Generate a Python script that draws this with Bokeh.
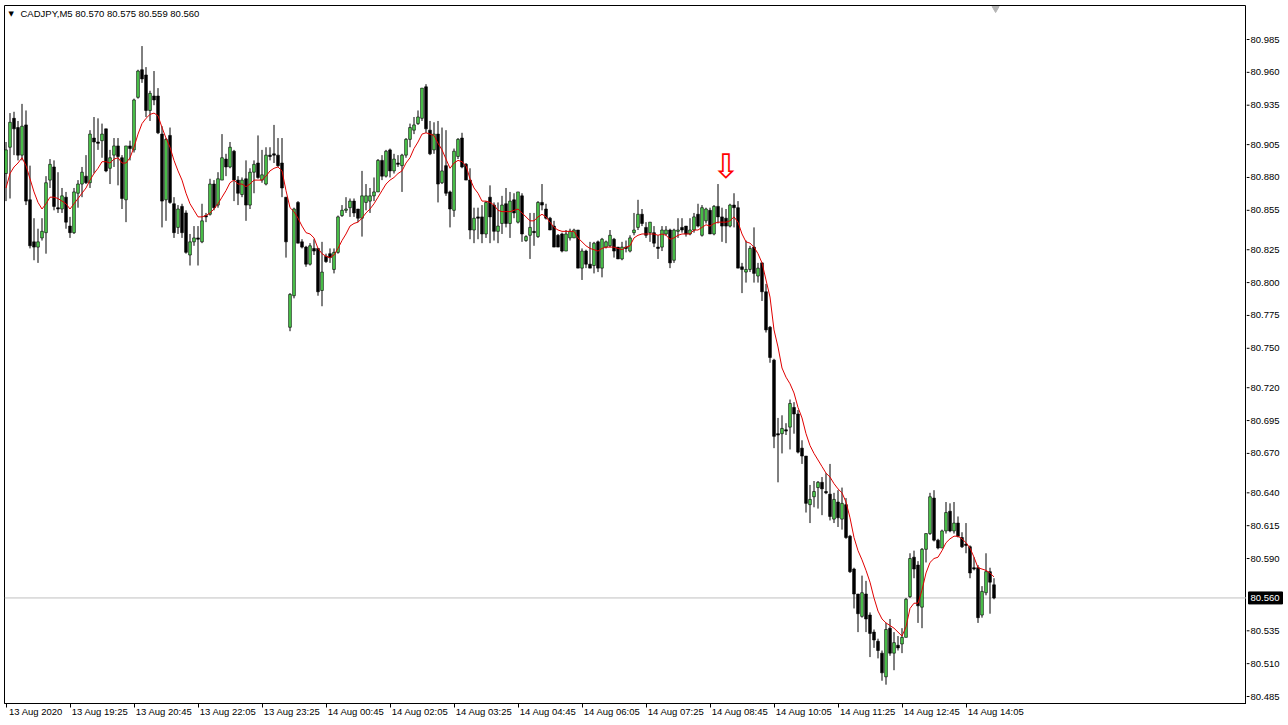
from bokeh.plotting import figure
from bokeh.layouts import row
from bokeh.models import ColumnDataSource, FixedTicker, Span, Label, Range1d
from bokeh.embed import file_html
from bokeh.resources import INLINE
from bokeh.core.properties import value

symbol = "CADJPY,M5"

open_ = [
80.883, 80.903, 80.925, 80.918, 80.897, 80.920, 80.863, 80.831, 80.827, 80.834,
80.838, 80.878, 80.888, 80.857, 80.856, 80.865, 80.843, 80.838, 80.868, 80.875,
80.881, 80.876, 80.910, 80.907, 80.908, 80.917, 80.887, 80.897, 80.904, 80.895,
80.863, 80.904, 80.901, 80.941, 80.962, 80.958, 80.931, 80.942, 80.942, 80.913,
80.863, 80.912, 80.860, 80.842, 80.858, 80.853, 80.821, 80.831, 80.834, 80.831,
80.851, 80.852, 80.875, 80.859, 80.878, 80.894, 80.888, 80.900, 80.878, 80.867,
80.879, 80.859, 80.884, 80.891, 80.878, 80.875, 80.897, 80.898, 80.897, 80.891,
80.865, 80.766, 80.790, 80.861, 80.831, 80.827, 80.814, 80.826, 80.826, 80.794,
80.820, 80.822, 80.810, 80.823, 80.851, 80.855, 80.857, 80.862, 80.856, 80.849,
80.861, 80.862, 80.866, 80.869, 80.893, 80.881, 80.901, 80.885, 80.891, 80.889,
80.897, 80.909, 80.916, 80.921, 80.925, 80.949, 80.916, 80.901, 80.913, 80.876,
80.889, 80.869, 80.855, 80.896, 80.910, 80.890, 80.878, 80.840, 80.850, 80.850,
80.837, 80.865, 80.859, 80.839, 80.845, 80.860, 80.845, 80.863, 80.846, 80.866,
80.832, 80.836, 80.839, 80.835, 80.861, 80.856, 80.849, 80.843, 80.836, 80.837,
80.824, 80.834, 80.834, 80.840, 80.811, 80.824, 80.814, 80.813, 80.831, 80.811,
80.827, 80.828, 80.833, 80.827, 80.818, 80.827, 80.824, 80.838, 80.842, 80.852,
80.842, 80.838, 80.838, 80.827, 80.827, 80.837, 80.840, 80.817, 80.839, 80.842,
80.843, 80.837, 80.840, 80.852, 80.836, 80.847, 80.855, 80.837, 80.858, 80.850,
80.849, 80.843, 80.859, 80.857, 80.812, 80.808, 80.810, 80.827, 80.805, 80.815,
80.793, 80.766, 80.741, 80.685, 80.685, 80.688, 80.690, 80.705, 80.700, 80.674,
80.668, 80.631, 80.637, 80.644, 80.648, 80.641, 80.639, 80.620, 80.633, 80.620,
80.631, 80.607, 80.582, 80.563, 80.546, 80.563, 80.547, 80.534, 80.527, 80.518,
80.500, 80.537, 80.518, 80.524, 80.525, 80.530, 80.561, 80.591, 80.585, 80.553,
80.597, 80.609, 80.636, 80.604, 80.598, 80.611, 80.626, 80.611, 80.617, 80.606,
80.601, 80.599, 80.583, 80.583, 80.547, 80.564, 80.580, 80.570,
]

high = [
80.907, 80.929, 80.930, 80.923, 80.936, 80.931, 80.889, 80.849, 80.841, 80.849,
80.881, 80.894, 80.893, 80.884, 80.872, 80.869, 80.850, 80.872, 80.878, 80.888,
80.897, 80.916, 80.926, 80.925, 80.921, 80.917, 80.901, 80.910, 80.910, 80.897,
80.904, 80.908, 80.940, 80.962, 80.980, 80.964, 80.946, 80.961, 80.948, 80.919,
80.910, 80.918, 80.865, 80.859, 80.860, 80.855, 80.837, 80.843, 80.843, 80.860,
80.853, 80.879, 80.878, 80.884, 80.913, 80.898, 80.907, 80.901, 80.881, 80.880,
80.893, 80.887, 80.893, 80.912, 80.901, 80.903, 80.903, 80.920, 80.910, 80.910,
80.865, 80.792, 80.857, 80.862, 80.833, 80.828, 80.830, 80.833, 80.826, 80.831,
80.822, 80.826, 80.826, 80.851, 80.859, 80.865, 80.864, 80.864, 80.856, 80.885,
80.875, 80.872, 80.880, 80.894, 80.897, 80.901, 80.902, 80.898, 80.897, 80.898,
80.910, 80.921, 80.926, 80.931, 80.948, 80.951, 80.923, 80.922, 80.923, 80.918,
80.916, 80.870, 80.902, 80.910, 80.914, 80.891, 80.887, 80.857, 80.857, 80.859,
80.862, 80.874, 80.861, 80.861, 80.866, 80.872, 80.869, 80.868, 80.869, 80.868,
80.836, 80.853, 80.853, 80.862, 80.875, 80.860, 80.850, 80.847, 80.837, 80.838,
80.840, 80.841, 80.841, 80.840, 80.826, 80.825, 80.831, 80.831, 80.832, 80.834,
80.832, 80.840, 80.834, 80.827, 80.831, 80.832, 80.836, 80.853, 80.863, 80.856,
80.846, 80.846, 80.843, 80.836, 80.843, 80.843, 80.841, 80.841, 80.849, 80.849,
80.843, 80.849, 80.853, 80.860, 80.859, 80.857, 80.857, 80.859, 80.875, 80.857,
80.856, 80.860, 80.868, 80.862, 80.815, 80.832, 80.828, 80.842, 80.815, 80.815,
80.799, 80.767, 80.742, 80.697, 80.699, 80.693, 80.711, 80.709, 80.703, 80.680,
80.668, 80.646, 80.649, 80.649, 80.652, 80.655, 80.662, 80.640, 80.642, 80.644,
80.636, 80.608, 80.583, 80.563, 80.577, 80.573, 80.549, 80.536, 80.529, 80.520,
80.541, 80.544, 80.534, 80.531, 80.537, 80.560, 80.594, 80.596, 80.588, 80.598,
80.609, 80.640, 80.642, 80.605, 80.612, 80.633, 80.632, 80.633, 80.622, 80.610,
80.617, 80.600, 80.591, 80.585, 80.569, 80.594, 80.583, 80.575,
]

low = [
80.862, 80.864, 80.897, 80.893, 80.893, 80.859, 80.826, 80.817, 80.815, 80.832,
80.822, 80.872, 80.855, 80.853, 80.853, 80.841, 80.834, 80.837, 80.857, 80.865,
80.875, 80.872, 80.883, 80.901, 80.895, 80.884, 80.875, 80.888, 80.874, 80.856,
80.846, 80.893, 80.899, 80.940, 80.952, 80.926, 80.923, 80.935, 80.913, 80.842,
80.847, 80.860, 80.834, 80.837, 80.834, 80.822, 80.813, 80.828, 80.813, 80.830,
80.846, 80.851, 80.855, 80.857, 80.878, 80.881, 80.887, 80.862, 80.859, 80.865,
80.847, 80.856, 80.868, 80.879, 80.876, 80.874, 80.893, 80.891, 80.888, 80.865,
80.819, 80.763, 80.788, 80.830, 80.826, 80.812, 80.813, 80.821, 80.790, 80.782,
80.815, 80.815, 80.807, 80.822, 80.850, 80.853, 80.850, 80.850, 80.846, 80.835,
80.855, 80.853, 80.862, 80.869, 80.878, 80.880, 80.880, 80.883, 80.888, 80.869,
80.895, 80.903, 80.913, 80.920, 80.923, 80.914, 80.897, 80.898, 80.861, 80.875,
80.866, 80.842, 80.850, 80.894, 80.887, 80.878, 80.833, 80.830, 80.833, 80.830,
80.834, 80.830, 80.832, 80.830, 80.837, 80.842, 80.834, 80.849, 80.845, 80.831,
80.831, 80.818, 80.828, 80.834, 80.855, 80.848, 80.840, 80.827, 80.827, 80.823,
80.824, 80.832, 80.834, 80.811, 80.802, 80.811, 80.811, 80.807, 80.808, 80.804,
80.826, 80.827, 80.819, 80.818, 80.817, 80.823, 80.823, 80.836, 80.840, 80.843,
80.834, 80.831, 80.827, 80.818, 80.824, 80.836, 80.811, 80.815, 80.834, 80.838,
80.835, 80.836, 80.838, 80.842, 80.835, 80.845, 80.837, 80.836, 80.845, 80.831,
80.830, 80.842, 80.842, 80.811, 80.792, 80.800, 80.808, 80.800, 80.800, 80.786,
80.762, 80.739, 80.674, 80.648, 80.670, 80.684, 80.673, 80.685, 80.670, 80.662,
80.625, 80.617, 80.629, 80.628, 80.623, 80.639, 80.619, 80.617, 80.614, 80.612,
80.605, 80.579, 80.552, 80.534, 80.545, 80.534, 80.515, 80.522, 80.514, 80.497,
80.494, 80.516, 80.505, 80.520, 80.518, 80.530, 80.560, 80.575, 80.541, 80.537,
80.587, 80.608, 80.603, 80.597, 80.598, 80.609, 80.610, 80.609, 80.606, 80.598,
80.594, 80.575, 80.581, 80.541, 80.545, 80.562, 80.548, 80.559,
]

close = [
80.901, 80.922, 80.917, 80.897, 80.919, 80.862, 80.828, 80.827, 80.831, 80.839,
80.876, 80.890, 80.858, 80.856, 80.866, 80.846, 80.838, 80.869, 80.875, 80.884,
80.876, 80.913, 80.907, 80.906, 80.913, 80.885, 80.895, 80.904, 80.896, 80.864,
80.904, 80.902, 80.939, 80.961, 80.955, 80.931, 80.944, 80.939, 80.914, 80.862,
80.909, 80.861, 80.838, 80.856, 80.838, 80.823, 80.831, 80.834, 80.833, 80.847,
80.850, 80.875, 80.857, 80.879, 80.895, 80.888, 80.903, 80.878, 80.868, 80.878,
80.859, 80.884, 80.890, 80.880, 80.882, 80.897, 80.896, 80.897, 80.889, 80.872,
80.831, 80.791, 80.856, 80.830, 80.827, 80.814, 80.828, 80.824, 80.793, 80.808,
80.816, 80.819, 80.823, 80.850, 80.855, 80.856, 80.862, 80.853, 80.849, 80.866,
80.866, 80.866, 80.869, 80.893, 80.881, 80.900, 80.885, 80.894, 80.890, 80.897,
80.909, 80.918, 80.920, 80.926, 80.948, 80.917, 80.898, 80.913, 80.875, 80.885,
80.868, 80.856, 80.900, 80.909, 80.888, 80.878, 80.840, 80.849, 80.849, 80.837,
80.861, 80.850, 80.839, 80.843, 80.859, 80.845, 80.862, 80.853, 80.869, 80.837,
80.835, 80.842, 80.838, 80.861, 80.859, 80.849, 80.840, 80.827, 80.827, 80.824,
80.837, 80.839, 80.840, 80.811, 80.824, 80.814, 80.811, 80.830, 80.811, 80.833,
80.831, 80.836, 80.824, 80.818, 80.827, 80.826, 80.834, 80.840, 80.852, 80.845,
80.836, 80.846, 80.830, 80.826, 80.840, 80.840, 80.815, 80.840, 80.840, 80.840,
80.837, 80.840, 80.850, 80.843, 80.857, 80.856, 80.837, 80.858, 80.850, 80.843,
80.843, 80.859, 80.857, 80.811, 80.810, 80.810, 80.826, 80.807, 80.811, 80.793,
80.764, 80.743, 80.683, 80.684, 80.689, 80.687, 80.708, 80.700, 80.671, 80.668,
80.632, 80.635, 80.641, 80.648, 80.643, 80.640, 80.622, 80.635, 80.621, 80.632,
80.606, 80.580, 80.563, 80.548, 80.564, 80.544, 80.533, 80.528, 80.520, 80.503,
80.536, 80.518, 80.526, 80.522, 80.530, 80.559, 80.590, 80.582, 80.554, 80.597,
80.609, 80.637, 80.604, 80.598, 80.611, 80.625, 80.611, 80.617, 80.607, 80.599,
80.600, 80.579, 80.582, 80.545, 80.565, 80.580, 80.572, 80.560,
]

# moving average (red line)
ma = [
80.872, 80.883, 80.888, 80.891, 80.895, 80.889, 80.879, 80.869, 80.861, 80.856,
80.860, 80.865, 80.865, 80.864, 80.862, 80.860, 80.856, 80.860, 80.864, 80.868,
80.872, 80.878, 80.883, 80.887, 80.892, 80.892, 80.891, 80.894, 80.895, 80.891,
80.891, 80.895, 80.903, 80.913, 80.921, 80.925, 80.928, 80.929, 80.927, 80.918,
80.910, 80.903, 80.893, 80.885, 80.878, 80.868, 80.860, 80.855, 80.850, 80.850,
80.851, 80.853, 80.856, 80.860, 80.865, 80.870, 80.876, 80.878, 80.875, 80.875,
80.873, 80.875, 80.878, 80.878, 80.878, 80.881, 80.885, 80.887, 80.888, 80.885,
80.870, 80.857, 80.854, 80.849, 80.843, 80.838, 80.837, 80.834, 80.826, 80.822,
80.820, 80.819, 80.821, 80.826, 80.832, 80.837, 80.843, 80.845, 80.846, 80.849,
80.853, 80.856, 80.860, 80.865, 80.870, 80.875, 80.878, 80.880, 80.883, 80.885,
80.891, 80.895, 80.902, 80.907, 80.913, 80.914, 80.913, 80.912, 80.906, 80.901,
80.894, 80.887, 80.891, 80.893, 80.892, 80.889, 80.879, 80.872, 80.868, 80.862,
80.862, 80.861, 80.859, 80.855, 80.854, 80.854, 80.854, 80.855, 80.856, 80.853,
80.850, 80.847, 80.847, 80.850, 80.852, 80.850, 80.846, 80.842, 80.840, 80.839,
80.839, 80.839, 80.839, 80.834, 80.831, 80.828, 80.826, 80.825, 80.824, 80.826,
80.827, 80.827, 80.827, 80.826, 80.825, 80.827, 80.828, 80.834, 80.836, 80.837,
80.837, 80.837, 80.837, 80.836, 80.837, 80.836, 80.833, 80.834, 80.836, 80.837,
80.837, 80.837, 80.840, 80.840, 80.842, 80.844, 80.843, 80.845, 80.846, 80.846,
80.846, 80.847, 80.850, 80.846, 80.837, 80.831, 80.830, 80.827, 80.822, 80.815,
80.802, 80.789, 80.764, 80.751, 80.735, 80.728, 80.723, 80.716, 80.705, 80.697,
80.685, 80.676, 80.670, 80.665, 80.660, 80.655, 80.652, 80.647, 80.643, 80.640,
80.633, 80.621, 80.606, 80.596, 80.589, 80.581, 80.572, 80.560, 80.550, 80.544,
80.541, 80.539, 80.537, 80.534, 80.531, 80.538, 80.552, 80.556, 80.556, 80.566,
80.579, 80.587, 80.590, 80.591, 80.596, 80.602, 80.605, 80.607, 80.607, 80.605,
80.602, 80.598, 80.591, 80.583, 80.582, 80.581, 80.579, 80.576,
]

time_labels = [
    "13 Aug 2020", "13 Aug 19:25", "13 Aug 20:45", "13 Aug 22:05", "13 Aug 23:25",
    "14 Aug 00:45", "14 Aug 02:05", "14 Aug 03:25", "14 Aug 04:45", "14 Aug 06:05",
    "14 Aug 07:25", "14 Aug 08:45", "14 Aug 10:05", "14 Aug 11:25", "14 Aug 12:45",
    "14 Aug 14:05",
]
bars_per_label = 16

price_ticks = [80.985, 80.960, 80.935, 80.905, 80.880, 80.855, 80.825, 80.800, 80.775,
               80.750, 80.720, 80.695, 80.670, 80.640, 80.615, 80.590, 80.535, 80.510, 80.485]

arrow_bar = 180
arrow_price = 80.889

# ---------------- styling / layout ----------------
BULL = "#4cc84c"
BEAR = "#000000"
MA_COLOR = "#e00000"
FONT = "Liberation Sans"
FS = "9.5px"

PX_PER_BAR = 4.0
PX_PER_PRICE = 1314.0
FRAME_W, FRAME_H = 1242, 698
TOP, BOTTOM, LEFT = 5, 19, 4
SCALE_W = 38
x_start = -0.375
y_end = 80.985 + 34 / PX_PER_PRICE
y_range = Range1d(y_end - FRAME_H / PX_PER_PRICE, y_end)

n = len(close)
xs = list(range(n))
src = ColumnDataSource(dict(
    x=xs, high=high, low=low,
    top=[max(o, c) for o, c in zip(open_, close)],
    bottom=[min(o, c) for o, c in zip(open_, close)],
    fill=[BULL if c >= o else BEAR for o, c in zip(open_, close)],
))

p = figure(frame_width=FRAME_W, frame_height=FRAME_H,
           x_range=Range1d(x_start, x_start + FRAME_W / PX_PER_BAR), y_range=y_range,
           y_axis_location=None, toolbar_location=None, output_backend="svg")
p.min_border_left = LEFT
p.min_border_right = 0
p.min_border_top = TOP
p.min_border_bottom = BOTTOM
p.background_fill_color = "white"
p.border_fill_color = "white"
p.outline_line_color = "black"
p.outline_line_width = 1
p.xgrid.visible = False
p.ygrid.visible = False

# current price line
p.add_layout(Span(location=close[-1], dimension="width", line_color="#c0c0c0",
                  line_width=1, level="underlay"))

# candles
p.segment(x0="x", y0="high", x1="x", y1="low", source=src, line_color="black", line_width=1)
p.vbar(x="x", width=0.7, top="top", bottom="bottom", source=src,
       fill_color="fill", line_color="black", line_width=0.6)

# moving average
p.line(xs, ma, line_color=MA_COLOR, line_width=1)

# sell arrow
p.text(x=[arrow_bar], y=[arrow_price], text=["\u21e9"], text_color="#ff0000",
       text_font=value("DejaVu Sans"), text_font_size="34px",
       text_align="center", text_baseline="middle")

# chart-shift marker
p.scatter(x=[n - 0.6], y=[y_end - 3 / PX_PER_PRICE], marker="inverted_triangle", size=7,
          fill_color="#b4b4b4", line_color="#b4b4b4")

# x axis (time)
tick_bars = list(range(0, n, bars_per_label))[:len(time_labels)]
label_shift = 7.5
xa = p.xaxis[0]
xa.ticker = FixedTicker(ticks=[t + label_shift for t in tick_bars], minor_ticks=tick_bars)
xa.major_label_overrides = {t + label_shift: lab for t, lab in zip(tick_bars, time_labels)}
xa.major_tick_line_color = None
xa.major_tick_out = 1
xa.major_tick_in = 0
xa.minor_tick_line_color = "black"
xa.minor_tick_out = 4
xa.minor_tick_in = 0
xa.major_label_standoff = -2
xa.axis_line_color = "black"
xa.major_label_text_font = FONT
xa.major_label_text_font_size = FS
xa.major_label_text_color = "black"

# header
p.add_layout(Label(x=4, y=FRAME_H - 8, x_units="screen", y_units="screen", text="\u25bc",
                   text_color="black", text_font="DejaVu Sans", text_font_size="7px",
                   text_baseline="middle"))
p.add_layout(Label(x=16, y=FRAME_H - 8, x_units="screen", y_units="screen",
                   text=f"{symbol}  {open_[-1]:.3f} {high[-1]:.3f} {low[-1]:.3f} {close[-1]:.3f}",
                   text_color="black", text_font=FONT, text_font_size=FS,
                   text_baseline="middle"))

# ---------------- price scale (right) ----------------
s = figure(frame_width=SCALE_W, frame_height=FRAME_H, x_range=Range1d(0, SCALE_W),
           y_range=y_range, x_axis_location=None, y_axis_location=None,
           toolbar_location=None, output_backend="svg")
s.min_border_left = 0
s.min_border_right = 0
s.min_border_top = TOP
s.min_border_bottom = BOTTOM
s.outline_line_color = None
s.background_fill_color = "white"
s.border_fill_color = "white"
s.xgrid.visible = False
s.ygrid.visible = False

s.segment(x0=[0] * len(price_ticks), y0=price_ticks, x1=[3] * len(price_ticks), y1=price_ticks,
          line_color="black", line_width=1)
s.text(x=[4] * len(price_ticks), y=price_ticks, text=[f"{t:.3f}" for t in price_ticks],
       text_font=value(FONT), text_font_size=FS, text_color="black",
       text_align="left", text_baseline="middle")

# current price tag
tag_h = 6 / PX_PER_PRICE
s.quad(left=[2], right=[36], bottom=[close[-1] - tag_h], top=[close[-1] + tag_h],
       fill_color="black", line_color="black")
s.text(x=[4], y=[close[-1]], text=[f"{close[-1]:.3f}"], text_font=value(FONT),
       text_font_size=FS, text_color="white", text_align="left", text_baseline="middle")

layout = row(p, s)
open("out.html", "w").write(file_html(layout, INLINE, "CADJPY,M5"))
